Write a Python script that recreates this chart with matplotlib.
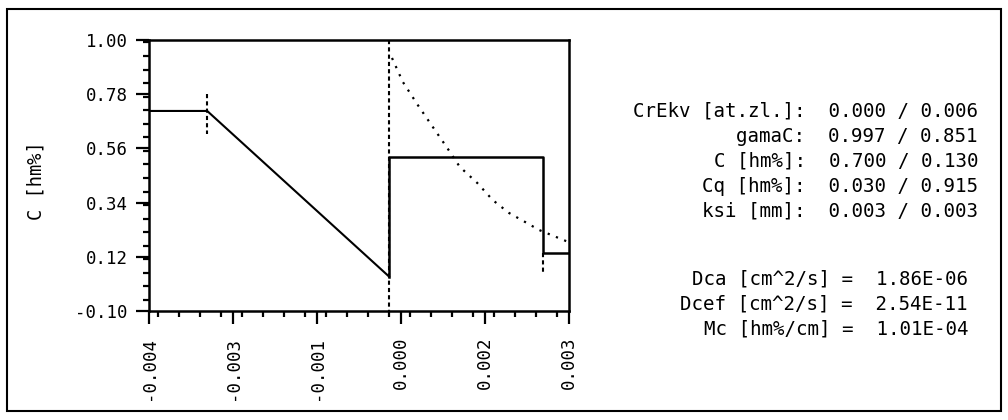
import matplotlib
matplotlib.use("Agg")
import matplotlib.pyplot as plt
from matplotlib.patches import Rectangle
from matplotlib.ticker import FixedLocator, MultipleLocator

plt.rcParams["font.family"] = ["DejaVu Sans Mono"]
plt.rcParams["axes.unicode_minus"] = False

# profile (solid): bulk -> kink -> interface, then step in the second phase
left_x = [-0.004, -0.00303, 0.0]
left_y = [0.712, 0.712, 0.04]
right_x = [0.0, 0.0, 0.00257, 0.00257, 0.003]
right_y = [0.04, 0.525, 0.525, 0.135, 0.135]

# dotted decay curve
curve_x = [0.00005, 0.00023, 0.00048, 0.00073, 0.00097, 0.00118, 0.00147,
           0.00173, 0.0020, 0.0023, 0.0025, 0.0027, 0.00295, 0.003]
curve_y = [0.927, 0.83, 0.736, 0.647, 0.562, 0.485, 0.42,
           0.35, 0.298, 0.257, 0.229, 0.209, 0.184, 0.18]

# dashed markers: (x, y_top, y_bottom)
markers = [(-0.00303, 0.78, 0.62), (0.0, 1.0, -0.1), (0.00257, 0.135, 0.05)]

xticks = [-0.004, -0.0026, -0.0012, 0.0002, 0.0016, 0.003]
xlabels = ["-0.004", "-0.003", "-0.001", "0.000", "0.002", "0.003"]
yticks = [-0.10, 0.12, 0.34, 0.56, 0.78, 1.00]

rows = ["CrEkv [at.zl.]:  0.000 / 0.006",
        "gamaC:  0.997 / 0.851",
        "C [hm%]:  0.700 / 0.130",
        "Cq [hm%]:  0.030 / 0.915",
        "ksi [mm]:  0.003 / 0.003"]
coefs = ["Dca [cm^2/s] =  1.86E-06",
         "Dcef [cm^2/s] =  2.54E-11",
         "Mc [hm%/cm] =  1.01E-04"]

W, H = 1008, 420
fig = plt.figure(figsize=(W / 100, H / 100), dpi=100)
ax = fig.add_axes([149 / W, 1 - 311 / H, 420 / W, 271 / H])

ax.plot(left_x, left_y, color="black", lw=1.5)
ax.plot(right_x, right_y, color="black", lw=1.8)
ax.plot(curve_x, curve_y, color="black", lw=1.6, linestyle=(0, (1, 3)))
for mx, top, bot in markers:
    ax.plot([mx, mx], [top, bot], color="black", lw=1.5, linestyle=(0, (2, 1.5)))

ax.set_xlim(-0.004, 0.003)
ax.set_ylim(-0.10, 1.00)
ax.xaxis.set_major_locator(FixedLocator(xticks))
ax.set_xticklabels(xlabels, rotation=90)
ax.xaxis.set_minor_locator(MultipleLocator(0.00035))
ax.set_yticks(yticks)
ax.set_yticklabels([f"{v:.2f}" for v in yticks])
ax.yaxis.set_minor_locator(MultipleLocator(0.055))
ax.tick_params(which="major", direction="out", length=9.5, width=1.6, labelsize=12.5)
ax.tick_params(axis="y", which="major", pad=6)
ax.tick_params(axis="x", which="major", pad=9)
ax.tick_params(which="minor", direction="out", length=4.5, width=1.6)
for s in ax.spines.values():
    s.set_linewidth(1.8)
ax.set_ylabel("C [hm%]", fontsize=13.5)
ax.yaxis.set_label_coords((45 - 149) / 420, 0.48)

# parameter listing on the right, right-aligned so colons and '=' line up
for i, line in enumerate(rows):
    fig.text(978 / W, 1 - (111 + 25 * i) / H, line,
             ha="right", va="center", fontsize=13.8)
for i, line in enumerate(coefs):
    fig.text(968 / W, 1 - (279 + 25 * i) / H, line,
             ha="right", va="center", fontsize=13.8)

fig.patches.append(Rectangle((7 / W, 1 - 411 / H), 994 / W, 402 / H,
                             transform=fig.transFigure, fill=False,
                             edgecolor="black", lw=1.5))

fig.savefig("out.png", dpi=100)
